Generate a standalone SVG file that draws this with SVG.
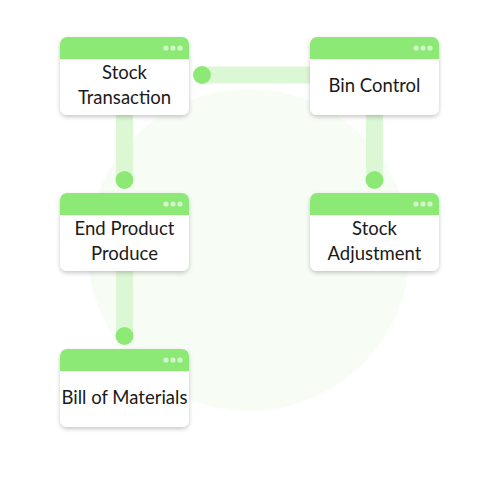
<svg xmlns="http://www.w3.org/2000/svg" width="500" height="500" viewBox="0 0 500 500">
<defs>
<filter id="sh" x="-20%" y="-20%" width="140%" height="150%">
<feDropShadow dx="0" dy="2" stdDeviation="2" flood-color="#000" flood-opacity="0.22"/>
</filter>
<style>
.card{fill:#fff;filter:url(#sh)}
.hdr{fill:#8de976}
.dot{fill:#fff;opacity:0.6}
.band{stroke:#dcf7d4;stroke-width:17;fill:none}
.knob{fill:#8de976}
.t{font-family:Lato,"Noto Sans",sans-serif;font-size:18.5px;fill:#1a1a1a;text-anchor:middle}
</style>
</defs>
<rect width="500" height="500" fill="#fff"/>
<circle cx="249" cy="250" r="161" fill="#f7fdf5"/>
<g id="connectors">
<line class="band" x1="202" y1="75" x2="312" y2="75"/>
<circle class="knob" cx="202" cy="75" r="9"/>
<line class="band" x1="124.5" y1="113" x2="124.5" y2="180"/>
<circle class="knob" cx="124.5" cy="180" r="9"/>
<line class="band" x1="374.5" y1="113" x2="374.5" y2="180"/>
<circle class="knob" cx="374.5" cy="180" r="9"/>
<line class="band" x1="124.5" y1="269" x2="124.5" y2="336"/>
<circle class="knob" cx="124.5" cy="336" r="9"/>
</g>
<g id="stock-transaction">
<rect class="card" x="60" y="37" width="129" height="78" rx="7"/>
<path class="hdr" d="M60,59 V44 a7,7 0 0 1 7,-7 H182 a7,7 0 0 1 7,7 V59 Z"/>
<circle class="dot" cx="166" cy="48" r="2.6"/><circle class="dot" cx="173" cy="48" r="2.6"/><circle class="dot" cx="180" cy="48" r="2.6"/>
<text class="t" x="124.5" y="79">Stock</text>
<text class="t" x="124.5" y="104">Transaction</text>
</g>
<g id="bin-control">
<rect class="card" x="310" y="37" width="129" height="78" rx="7"/>
<path class="hdr" d="M310,59 V44 a7,7 0 0 1 7,-7 H432 a7,7 0 0 1 7,7 V59 Z"/>
<circle class="dot" cx="416" cy="48" r="2.6"/><circle class="dot" cx="423" cy="48" r="2.6"/><circle class="dot" cx="430" cy="48" r="2.6"/>
<text class="t" x="374.5" y="92">Bin Control</text>
</g>
<g id="end-product-produce">
<rect class="card" x="60" y="193" width="129" height="78" rx="7"/>
<path class="hdr" d="M60,215 V200 a7,7 0 0 1 7,-7 H182 a7,7 0 0 1 7,7 V215 Z"/>
<circle class="dot" cx="166" cy="204" r="2.6"/><circle class="dot" cx="173" cy="204" r="2.6"/><circle class="dot" cx="180" cy="204" r="2.6"/>
<text class="t" x="124.5" y="235">End Product</text>
<text class="t" x="124.5" y="260">Produce</text>
</g>
<g id="stock-adjustment">
<rect class="card" x="310" y="193" width="129" height="78" rx="7"/>
<path class="hdr" d="M310,215 V200 a7,7 0 0 1 7,-7 H432 a7,7 0 0 1 7,7 V215 Z"/>
<circle class="dot" cx="416" cy="204" r="2.6"/><circle class="dot" cx="423" cy="204" r="2.6"/><circle class="dot" cx="430" cy="204" r="2.6"/>
<text class="t" x="374.5" y="235">Stock</text>
<text class="t" x="374.5" y="260">Adjustment</text>
</g>
<g id="bill-of-materials">
<rect class="card" x="60" y="349" width="129" height="78" rx="7"/>
<path class="hdr" d="M60,371 V356 a7,7 0 0 1 7,-7 H182 a7,7 0 0 1 7,7 V371 Z"/>
<circle class="dot" cx="166" cy="360" r="2.6"/><circle class="dot" cx="173" cy="360" r="2.6"/><circle class="dot" cx="180" cy="360" r="2.6"/>
<text class="t" x="124.5" y="404">Bill of Materials</text>
</g>
</svg>
